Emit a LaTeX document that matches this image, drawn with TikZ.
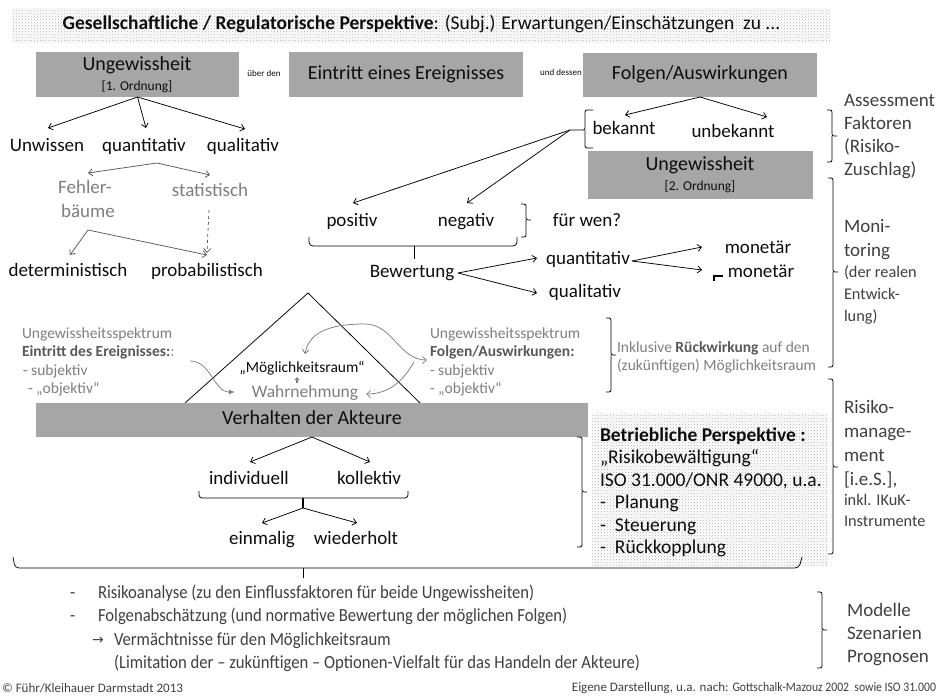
\documentclass[tikz,border=0pt]{standalone}
\usepackage{fontspec}
\setmainfont{Carlito}
\newfontfamily\condfont[FakeStretch=0.9]{Carlito}
\newfontfamily\symfont{DejaVu Sans}
\usetikzlibrary{arrows.meta,patterns,calc}
\definecolor{boxgray}{RGB}{166,166,166}
\definecolor{txtgray}{RGB}{127,127,127}
\definecolor{dgray}{RGB}{89,89,89}
\definecolor{rgray}{RGB}{64,64,64}
\definecolor{ink}{RGB}{13,13,13}
\newcommand\fsMain{\fontsize{19}{23}\selectfont}
\newcommand\fsBox{\fontsize{20}{24}\selectfont}
\newcommand\fsOrd{\fontsize{13.5}{16}\selectfont}
\newcommand\fsTiny{\fontsize{9}{11}\selectfont}
\newcommand\fsGray{\fontsize{15.5}{18}\selectfont}
\newcommand\fsWahr{\fontsize{17.5}{20}\selectfont}
\newcommand\fsRight{\fontsize{19}{23}\selectfont}
\newcommand\fsRightS{\fontsize{16.3}{19}\selectfont}
\newcommand\fsBet{\fontsize{19.5}{23}\selectfont}
\newcommand\fsBot{\condfont\fontsize{18.5}{22}\selectfont}
\newcommand\fsBan{\fontsize{19.5}{23}\selectfont}
\newcommand\fsFoot{\fontsize{13}{15}\selectfont}
\newcommand\RBrk[4]{\draw[brk] (#1-5,#2) -| (#1,#3) -- (#1+5,#3); \draw[brk] (#1-5,#4) -| (#1,#3);}
\begin{document}
\begin{tikzpicture}[x=1pt,y=-1pt,line width=0.75pt,
  every node/.style={inner sep=0pt, outer sep=0pt},
  arr/.style={-{Straight Barb[length=4pt,width=7pt]}},
  gbox/.style={fill=boxgray, text=ink, font=\fsBox, text height=13pt, text depth=4pt},
  lbl/.style={font=\fsMain, text=ink, text height=12.5pt, text depth=4pt},
  glbl/.style={font=\fsGray, text=txtgray, anchor=west, text height=10pt, text depth=3.3pt},
  rlbl/.style={font=\fsRight, text=rgray, anchor=west, text height=12.5pt, text depth=4pt},
  rsml/.style={font=\fsRightS, text=rgray, anchor=west, text height=10.7pt, text depth=3.5pt},
  brk/.style={rounded corners=2pt},
  dotfill/.style={pattern=crosshatch dots, pattern color=black!30},
  blbl/.style={font=\fsBet, text=ink, anchor=west, text height=12.8pt, text depth=4pt},
  btxt/.style={font=\fsBot, text=rgray, anchor=west, text height=12pt, text depth=4pt},
  gcurve/.style={draw=txtgray, line width=0.75pt}]
\useasboundingbox (0,0) rectangle (938,699);
\fill[white] (0,0) rectangle (938,699);

% banner
\node[dotfill, minimum width=817pt, minimum height=34pt, font=\fsBan, text=ink, text height=13pt, text depth=4pt] (banner) at (421.5,25)
  {\textbf{Gesellschaftliche / Regulatorische Perspektive}: (Subj.) Erwartungen/Einschätzungen\ \ zu ...};

% top boxes
\node[gbox, minimum width=203pt, minimum height=45pt] (u1) at (137.5,74.5) {};
\node[font=\fsBox, text=ink, text height=13pt, text depth=4pt] (u1a) at (137,66) {Ungewissheit};
\node[font=\fsOrd, text=ink, text height=9pt, text depth=3pt] (u1b) at (137,87) {[1. Ordnung]};
\node[font=\fsTiny, text=ink] (uber) at (264,73) {über den};
\node[gbox, minimum width=234pt, minimum height=45pt] (ev) at (406,74.5) {Eintritt eines Ereignisses};
\node[font=\fsTiny, text=ink] (und) at (561,72) {und dessen};
\node[gbox, minimum width=234pt, minimum height=44pt] (fo) at (700,75) {Folgen/Auswirkungen};
\node[gbox, minimum width=225pt, minimum height=48pt] (u2) at (700.5,175) {};
\node[font=\fsBox, text=ink, text height=13pt, text depth=4pt] (u2a) at (700,166) {Ungewissheit};
\node[font=\fsOrd, text=ink, text height=9pt, text depth=3pt] (u2b) at (700,187) {[2. Ordnung]};

% left tree
\node[lbl] (unw) at (47,147) {Unwissen};
\node[lbl] (q1) at (144,147) {quantitativ};
\node[lbl] (ql1) at (243,147) {qualitativ};
\draw[arr] (u1.south) -- ($(unw)+(1,-19)$);
\draw[arr] (u1.south) -- ($(q1)+(2,-19)$);
\draw[arr] (u1.south) -- ($(ql1)+(2,-18)$);
\node[lbl, text=txtgray] (fehl1) at (85,189) {Fehler-};
\node[lbl, text=txtgray] (fehl2) at (88,213) {bäume};
\node[lbl, text=txtgray] (stat) at (210,192) {statistisch};
\draw[arr, dgray] ($(q1)+(13,16)$) -- ($(fehl1)+(3,-16)$);
\draw[arr, dgray] ($(q1)+(13,16)$) -- ($(stat)+(0,-17)$);
\node[lbl] (det) at (68,272) {deterministisch};
\node[lbl] (prob) at (207,272) {probabilistisch};
\draw[arr, dgray] ($(fehl2)+(0,17)$) -- ($(det)+(2,-17)$);
\draw[arr, dgray] ($(fehl2)+(0,17)$) -- ($(prob)+(0,-17)$);
\draw[arr, dgray, dashed] ($(stat)+(-1,18)$) -- ($(prob)+(0,-19)$);

% right upper tree
\node[lbl] (bek) at (624,130) {bekannt};
\node[lbl] (unbek) at (733,133) {unbekannt};
\draw[arr] (fo.south) -- ($(bek)+(1,-15)$);
\draw[arr] (fo.south) -- ($(unbek)+(34,-16)$);
\coordinate (bktip) at (570,130);
\draw[brk] (593,110) -| (585,130) -- (bktip);
\draw[brk] (593,148) -| (585,130);
\node[lbl] (pos) at (352,222) {positiv};
\node[lbl] (neg) at (466,222) {negativ};
\draw[arr] (bktip) -- ($(pos)+(1,-19)$);
\draw[arr] (bktip) -- ($(neg)+(1,-19)$);
\draw[rounded corners=4pt] (309,237) -- (309,246) -- (517,246) -- (517,237);
\coordinate (bwtip) at (414,259);
\draw (414,246) -- (bwtip);
\node[lbl] (bew) at (412,273) {Bewertung};
\RBrk{526}{204}{220}{237}
\node[lbl] (fuer) at (587,222) {für wen?};
\node[lbl] (q2) at (588,260) {quantitativ};
\node[lbl] (ql2) at (585,293) {qualitativ};
\draw[arr] ($(bew)+(46,0)$) -- ($(q2)+(-51,-2)$);
\draw[arr] ($(bew)+(46,0)$) -- ($(ql2)+(-48,0)$);
\node[lbl] (mon1) at (758,249) {monetär};
\node[lbl] (mon2) at (761,273) {monetär};
\draw[arr] ($(q2)+(44,1)$) -- ($(mon1)+(-56,-2)$);
\draw[arr] ($(q2)+(44,1)$) -- ($(mon2)+(-59,-3)$);
\draw[line width=2pt] (714,281) -- (714,275.5) -- (723,275.5);

% triangle and perception
\draw (185,403) -- (308,293) -- (420,403);
\node[glbl] (lb1) at (22,335) {Ungewissheitsspektrum};
\node[glbl] (lb2) at (22,353) {\textbf{\color{dgray}Eintritt des Ereignisses:}:};
\node[glbl] (lb3) at (23,372) {- subjektiv};
\node[glbl] (lb4) at (28,390) {- „objektiv“};
\node[glbl] (rb1) at (430,335) {Ungewissheitsspektrum};
\node[glbl] (rb2) at (430,353) {\textbf{\color{dgray}Folgen/Auswirkungen:}};
\node[glbl] (rb3) at (430,372) {- subjektiv};
\node[glbl] (rb4) at (430,390) {- „objektiv“};
\node[font=\fsGray, text=ink, text height=10pt, text depth=3.3pt] (moeg) at (302,369) {„Möglichkeitsraum“};
\node[font=\fsWahr, text=txtgray, text height=11.5pt, text depth=3.7pt] (wahr) at (305,394) {Wahrnehmung};
\draw[txtgray, line width=1.6pt, -{Latex[length=3pt,width=6pt]}] ($(moeg)+(-5,14)$) -- ($(moeg)+(-5,8)$);
\coordinate (cl0) at (190,361);
\draw[gcurve, -{Latex[length=6pt,width=5pt]}] (cl0) to[out=0,in=180] ($(wahr.west)+(-17,-2)$);
\draw[gcurve, {Straight Barb[length=4pt,width=7pt]}-{Straight Barb[length=4pt,width=7pt]}]
  ($(moeg)+(3,-15)$) to[out=80,in=180] (365,324) to[out=0,in=180] ($(rb2.west)+(-3,7)$);
\draw[gcurve, -{Straight Barb[length=4pt,width=7pt]}] ($(rb3.west)+(-16,-10)$) to[out=240,in=0] ($(wahr.east)+(8,0)$);
\RBrk{611}{318}{355}{392}
\node[glbl] (inkl1) at (617,349) {Inklusive \textbf{\color{dgray}Rückwirkung} auf den};
\node[glbl] (inkl2) at (617,367) {(zukünftigen) Möglichkeitsraum};

% Verhalten
\node[gbox, minimum width=552pt, minimum height=34pt] (verh) at (312,420) {Verhalten der Akteure};
\node[lbl] (indiv) at (249,480) {individuell};
\node[lbl] (koll) at (369,480) {kollektiv};
\draw[arr] (verh.south) -- ($(indiv)+(1,-18)$);
\draw[arr] (verh.south) -- ($(koll)+(1,-18)$);
\draw[rounded corners=3pt] (199,491) -- (199,498) -- (408,498) -- (408,491);
\coordinate (vtip) at (303,508);
\draw[line width=1.8pt] (303,498) -- (vtip);
\node[lbl] (einm) at (262,540) {einmalig};
\node[lbl] (wied) at (356,540) {wiederholt};
\draw[arr] (vtip) -- ($(einm)+(0,-17)$);
\draw[arr] (vtip) -- ($(wied)+(1,-17)$);

% Betriebliche Perspektive
\node[dotfill, minimum width=236pt, minimum height=152pt] (bet) at (710,489) {};
\node[blbl] (be1) at (600,437) {\textbf{Betriebliche Perspektive :}};
\node[blbl] (be2) at (600,459.5) {„Risikobewältigung“};
\node[blbl] (be3) at (600,482) {ISO 31.000/ONR 49000, u.a.};
\node[blbl] (be4) at (600,504.5) {-\hspace{9pt}Planung};
\node[blbl] (be5) at (600,527) {-\hspace{9pt}Steuerung};
\node[blbl] (be6) at (600,549.5) {-\hspace{9pt}Rückkopplung};
\RBrk{582}{437}{492}{547}

% big brace
\draw[rounded corners=4pt] (13,557) -- (15,568) -- (799,568) -- (802,557);
\coordinate (bigtip) at (303,578);
\draw (303,568) -- (bigtip);

% bottom text
\node[btxt] (d1) at (70,594) {-};
\node[btxt] (bt1) at (98,594) {Risikoanalyse (zu den Einflussfaktoren für beide Ungewissheiten)};
\node[btxt] (d2) at (70,617) {-};
\node[btxt] (bt2) at (98,617) {Folgenabschätzung (und normative Bewertung der möglichen Folgen)};
\node[font=\symfont\fontsize{14}{16}\selectfont, text=rgray] (ar3) at (98,641) {→};
\node[btxt] (bt3) at (114,641) {Vermächtnisse für den Möglichkeitsraum};
\node[btxt] (bt4) at (114,664) {(Limitation der – zukünftigen – Optionen-Vielfalt für das Handeln der Akteure)};

% right column
\RBrk{832}{110}{136}{162}
\node[rlbl] (as1) at (844,102) {Assessment};
\node[rlbl] (as2) at (844,125) {Faktoren};
\node[rlbl] (as3) at (844,148) {(Risiko-};
\node[rlbl] (as4) at (844,171) {Zuschlag)};
\RBrk{833}{178}{272}{367}
\node[rlbl] (mo1) at (844,228) {Moni-};
\node[rlbl] (mo2) at (844,252) {toring};
\node[rsml] (mo3) at (844,274) {(der realen};
\node[rsml] (mo4) at (844,296) {Entwick-};
\node[rsml] (mo5) at (844,318) {lung)};
\RBrk{833}{379}{467}{554}
\node[rlbl] (ri1) at (844,409) {Risiko-};
\node[rlbl] (ri2) at (844,433) {manage-};
\node[rlbl] (ri3) at (844,457) {ment};
\node[rlbl] (ri4) at (844,481) {[i.e.S.],};
\node[rsml] (ri5) at (844,502) {inkl. IKuK-};
\node[rsml] (ri6) at (844,523) {Instrumente};
\RBrk{822}{592}{630}{668}
\node[rlbl] (md1) at (847,612) {Modelle};
\node[rlbl] (md2) at (847,635) {Szenarien};
\node[rlbl] (md3) at (847,658) {Prognosen};

% footer
\node[font=\fsFoot, text=rgray, anchor=west] (f1) at (2,688) {© Führ/Kleihauer Darmstadt 2013};
\node[font=\fsFoot, text=rgray, anchor=east] (f2) at (936,688) {Eigene Darstellung, u.a. nach: {\condfont Gottschalk-Mazouz 2002\ \ sowie ISO 31.000}};
\end{tikzpicture}
\end{document}
